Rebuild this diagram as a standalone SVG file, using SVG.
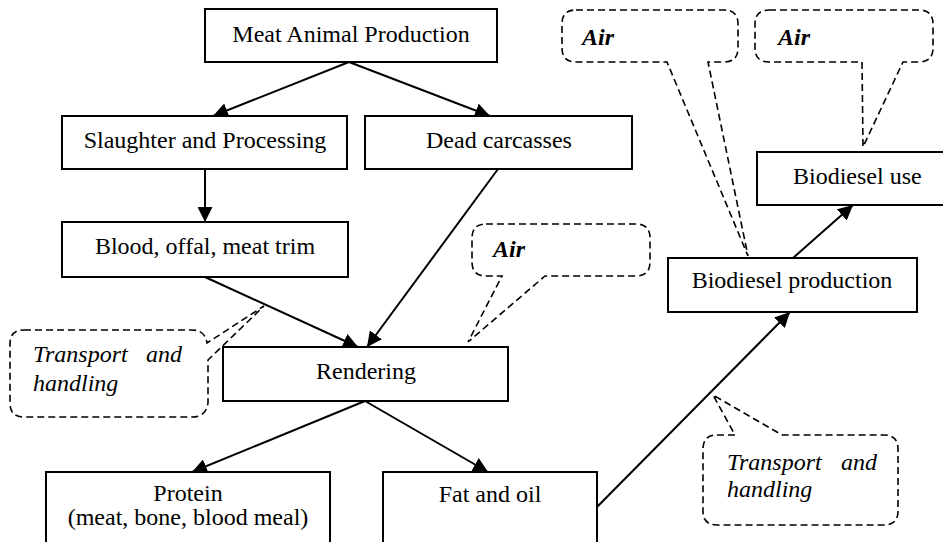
<svg xmlns="http://www.w3.org/2000/svg" width="943" height="542" viewBox="0 0 943 542">
<style>
.box{fill:#fff;stroke:#000;stroke-width:2}
.t{font-family:"Liberation Serif","Times New Roman",serif;font-size:24px;fill:#000}
.c{text-anchor:middle}
.it{font-style:italic}
.air{font-style:italic;font-weight:bold}
.conn line{stroke:#000;stroke-width:2;marker-end:url(#ah)}
.bub{fill:none;stroke:#000;stroke-width:1.6;stroke-dasharray:7 4}
</style>
<defs>
<marker id="ah" viewBox="0 0 14 14" refX="14" refY="7" markerWidth="15" markerHeight="15" markerUnits="userSpaceOnUse" orient="auto">
<path d="M0,0 L14,7 L0,14 Z" fill="#000"/>
</marker>
</defs>
<rect width="943" height="542" fill="#fff"/>

<g id="connectors" class="conn">
<line x1="349" y1="62" x2="213" y2="116"/>
<line x1="349" y1="62" x2="490" y2="116"/>
<line x1="205" y1="169" x2="205" y2="222"/>
<line x1="205" y1="277" x2="358" y2="347"/>
<line x1="498" y1="169" x2="367" y2="347"/>
<line x1="365" y1="401" x2="192" y2="472"/>
<line x1="365" y1="401" x2="488" y2="472"/>
<line x1="597" y1="507" x2="790" y2="312"/>
<line x1="793" y1="258" x2="853" y2="205"/>
</g>

<g id="meat-animal-production">
<rect class="box" x="205" y="9" width="292" height="53"/>
<text class="t c" x="351" y="42">Meat Animal Production</text>
</g>
<g id="slaughter">
<rect class="box" x="62" y="116" width="285" height="53"/>
<text class="t c" x="205" y="148">Slaughter and Processing</text>
</g>
<g id="dead-carcasses">
<rect class="box" x="365" y="116" width="267" height="53"/>
<text class="t c" x="499" y="148">Dead carcasses</text>
</g>
<g id="blood">
<rect class="box" x="62" y="222" width="286" height="55"/>
<text class="t c" x="205" y="254">Blood, offal, meat trim</text>
</g>
<g id="rendering">
<rect class="box" x="223" y="347" width="285" height="54"/>
<text class="t c" x="366" y="379">Rendering</text>
</g>
<g id="protein">
<rect class="box" x="46" y="472" width="284" height="72"/>
<text class="t c" x="188" y="501">Protein</text>
<text class="t c" x="188" y="525">(meat, bone, blood meal)</text>
</g>
<g id="fat-oil">
<rect class="box" x="383" y="472" width="214" height="72"/>
<text class="t c" x="490" y="502">Fat and oil</text>
</g>
<g id="biodiesel-production">
<rect class="box" x="668" y="258" width="249" height="54"/>
<text class="t c" x="792" y="288">Biodiesel production</text>
</g>
<g id="biodiesel-use">
<rect class="box" x="757" y="152" width="200" height="53"/>
<text class="t" x="793" y="184">Biodiesel use</text>
</g>

<g id="callout-air-1">
<path class="bub" d="M576,10 H724 Q738,10 738,24 V48 Q738,62 724,62 H708 L748,256 L667,62 H576 Q562,62 562,48 V24 Q562,10 576,10 Z"/>
<text class="t air" x="582" y="45">Air</text>
</g>
<g id="callout-air-2">
<path class="bub" d="M769,10 H919 Q933,10 933,24 V48 Q933,62 919,62 H903 L863,147 L862,62 H769 Q755,62 755,48 V24 Q755,10 769,10 Z"/>
<text class="t air" x="778" y="45">Air</text>
</g>
<g id="callout-air-3">
<path class="bub" d="M486,224 H636 Q650,224 650,238 V262 Q650,276 636,276 H545 L468,342 L502,276 H486 Q472,276 472,262 V238 Q472,224 486,224 Z"/>
<text class="t air" x="493" y="257">Air</text>
</g>
<g id="callout-transport-1">
<path class="bub" d="M24,330 H192 Q205,330 207,343 L264,306 L208,360 V403 Q206,417 192,417 H24 Q10,417 10,403 V344 Q10,330 24,330 Z"/>
<text class="t it" x="33" y="362">Transport</text>
<text class="t it" x="182" y="362" text-anchor="end">and</text>
<text class="t it" x="33" y="391">handling</text>
</g>
<g id="callout-transport-2">
<path class="bub" d="M717,435 H735 L713,395 L782,435 H884 Q898,435 898,449 V511 Q898,525 884,525 H717 Q703,525 703,511 V449 Q703,435 717,435 Z"/>
<text class="t it" x="727" y="470">Transport</text>
<text class="t it" x="877" y="470" text-anchor="end">and</text>
<text class="t it" x="727" y="497">handling</text>
</g>
</svg>
